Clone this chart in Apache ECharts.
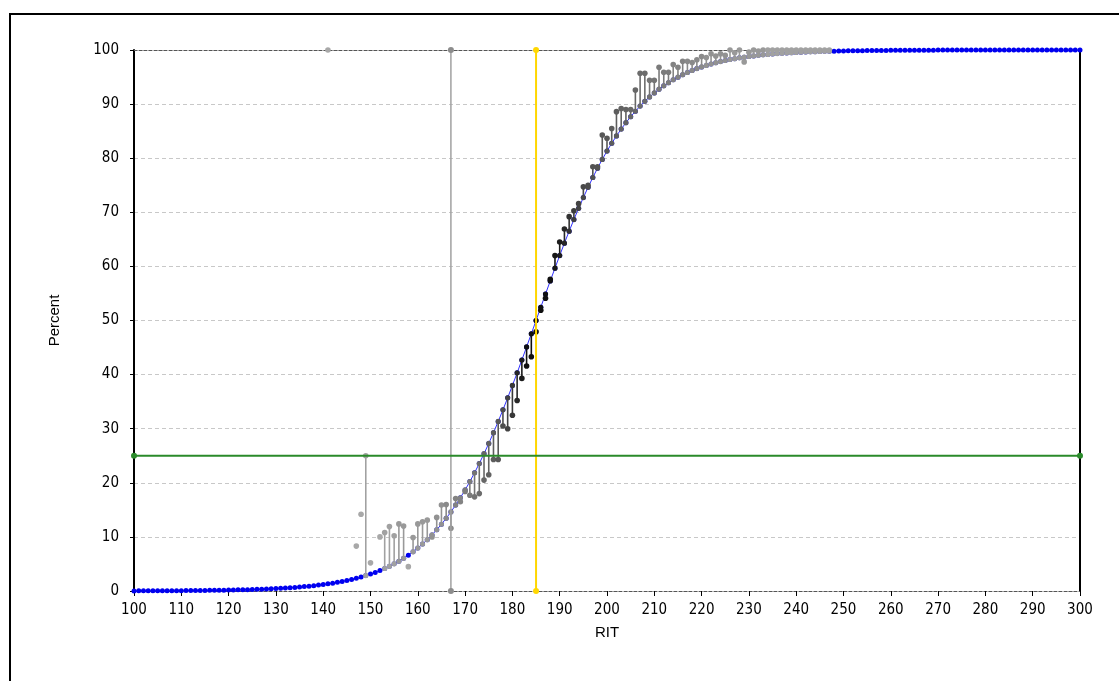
<!DOCTYPE html>
<html><head><meta charset="utf-8">
<script src="https://cdn.jsdelivr.net/npm/echarts@6/dist/echarts.min.js"></script>
<style>html,body{margin:0;padding:0;background:#fff}#c{width:1119px;height:681px}</style>
</head><body><div id="c"></div>
<script>
// Fitted (expected) curve: RIT 100..300, percent
const ritStart = 100;
const curvePct = [
0.02,0.03,0.03,0.03,0.04,0.04,0.04,0.05,0.05,0.06,
0.06,0.07,0.08,0.09,0.09,0.10,0.12,0.13,0.14,0.15,
0.17,0.19,0.21,0.23,0.25,0.28,0.31,0.34,0.37,0.41,
0.45,0.50,0.55,0.61,0.67,0.74,0.81,0.90,0.99,1.09,
1.20,1.32,1.45,1.60,1.76,1.94,2.14,2.35,2.59,2.85,
3.13,3.44,3.79,4.16,4.57,5.02,5.50,6.04,6.62,7.25,
7.94,8.68,9.49,10.37,11.32,12.34,13.44,14.62,15.89,17.24,
18.68,20.22,21.85,23.57,25.38,27.28,29.27,31.34,33.49,35.70,
37.99,40.32,42.70,45.11,47.55,50.00,52.45,54.89,57.30,59.68,
62.01,64.30,66.51,68.66,70.73,72.72,74.62,76.43,78.15,79.78,
81.32,82.76,84.11,85.38,86.56,87.66,88.68,89.63,90.51,91.32,
92.06,92.75,93.38,93.96,94.50,94.98,95.43,95.84,96.21,96.56,
96.87,97.15,97.41,97.65,97.86,98.06,98.24,98.40,98.55,98.68,
98.80,98.91,99.01,99.10,99.19,99.26,99.33,99.39,99.45,99.50,
99.55,99.59,99.63,99.66,99.69,99.72,99.75,99.77,99.79,99.81,
99.83,99.85,99.86,99.87,99.88,99.90,99.91,99.91,99.92,99.93,
99.94,99.94,99.95,99.95,99.96,99.96,99.96,99.97,99.97,99.97,
99.98,99.98,99.98,99.98,99.98,99.98,99.98,99.98,99.98,99.98,
99.99,99.99,99.99,99.99,99.99,99.99,99.99,99.99,99.99,99.99,
99.99,99.99,99.99,99.99,99.99,99.99,99.99,99.99,99.99,99.99,
99.99
];
// Observed points: RIT, observed percent, count (drives shade; single cases have no drop line)
const obsRit = [141,147,148,149,150,152,153,154,155,156,157,158,159,160,161,162,163,164,165,166,167,
168,169,170,171,172,173,174,175,176,177,178,179,180,181,182,183,184,185,186,187,188,189,190,
191,192,193,194,195,196,197,198,199,200,201,202,203,204,205,206,207,208,209,210,
211,212,213,214,215,216,217,218,219,220,221,222,223,224,225,226,227,228,229,230,
231,232,233,234,235,236,237,238,239,240,241,242,243,244,245,246,247];
const obsPct = [100,8.3,14.2,25.0,5.2,10.0,10.8,11.9,10.2,12.4,12.0,4.5,9.9,12.4,12.8,13.1,10.0,13.6,15.9,16.0,11.6,
17.1,16.5,18.4,17.7,17.4,18.0,20.5,21.5,24.3,24.3,30.5,30.0,32.5,35.2,39.3,41.6,43.3,47.9,51.9,54.1,57.6,62.0,64.5,
66.9,69.2,70.3,71.6,74.7,75.0,78.4,78.4,84.3,83.7,85.5,88.6,89.2,89.0,89.0,92.6,95.7,95.7,94.4,94.4,
96.8,95.9,95.9,97.3,96.8,97.9,97.9,97.7,98.2,98.8,98.6,99.3,98.9,99.3,99.0,100,99.5,100,97.8,99.6,
100,99.8,100,100,100,100,100,100,100,100,100,100,100,100,100,100,100];
const obsCount = [1,1,1,2,1,1,2,2,2,3,3,1,3,3,3,3,4,4,4,5,5,
6,6,7,7,8,9,10,11,12,13,15,17,19,22,24,26,27,28,28,27,26,25,24,
22,20,18,17,16,15,14,14,13,13,12,12,11,11,10,10,9,9,8,8,
7,7,7,6,6,6,5,5,5,5,4,4,4,4,4,3,3,3,3,3,
3,3,3,2,2,2,2,2,2,2,2,2,2,2,2,2,2];
// Reference lines
const cutLow = 167;     // grey vertical
const cutMain = 185;    // yellow vertical
const targetPct = 25;   // green horizontal
const xTicks = {min:100, max:300, step:10};
const yTicks = {min:0, max:100, step:10};

const curveData = curvePct.map((v,i)=>[ritStart+i, v]);
const obsData = obsRit.map((r,i)=>[r, obsPct[i], curvePct[r-ritStart], obsCount[i]]);

const font = "'Liberation Sans Narrow','DejaVu Sans Condensed',Arial,sans-serif";
const nameFont = "'Liberation Sans',Arial,sans-serif";
const chart = echarts.init(document.getElementById('c'), null, {renderer:'canvas'});
chart.setOption({
  animation:false,
  backgroundColor:'#fff',
  grid:{left:134, right:39, top:50, bottom:90},
  graphic:[{type:'rect', shape:{x:10, y:14, width:1200, height:800},
    style:{fill:'none', stroke:'#000', lineWidth:2}, z:100}],
  visualMap:{show:false, type:'continuous', seriesIndex:1, dimension:3, min:1, max:26,
    inRange:{color:['#a8a8a8','#6a6a6a','#404040','#101010']}},
  xAxis:[{type:'value', min:xTicks.min, max:xTicks.max, interval:xTicks.step,
    name:'RIT', nameLocation:'middle', nameGap:34,
    nameTextStyle:{fontFamily:nameFont, fontSize:15, color:'#000'},
    axisLine:{show:true, onZero:false, lineStyle:{color:'#555', type:[3,2], width:1}},
    axisTick:{show:true, length:5, lineStyle:{color:'#000'}},
    axisLabel:{fontFamily:font, fontSize:15, color:'#000', margin:12},
    splitLine:{show:false}},
   {type:'value', position:'top', min:xTicks.min, max:xTicks.max,
    axisLine:{show:true, onZero:false, lineStyle:{color:'#555', type:[3,2], width:1}},
    axisTick:{show:false}, axisLabel:{show:false}, splitLine:{show:false}}],
  yAxis:[{type:'value', min:yTicks.min, max:yTicks.max, interval:yTicks.step,
    name:'Percent', nameLocation:'middle', nameGap:72, nameRotate:90,
    nameTextStyle:{fontFamily:nameFont, fontSize:15, color:'#000'},
    axisLine:{show:true, onZero:false, lineStyle:{color:'#000', width:2}},
    axisTick:{show:true, length:4, lineStyle:{color:'#000'}},
    axisLabel:{fontFamily:font, fontSize:15, color:'#000', margin:15},
    splitLine:{show:true, lineStyle:{color:'#c8c8c8', type:[4,3], width:1}}},
   {type:'value', position:'right', min:yTicks.min, max:yTicks.max,
    axisLine:{show:true, onZero:false, lineStyle:{color:'#000', width:2}},
    axisTick:{show:false}, axisLabel:{show:false}, splitLine:{show:false}}],
  series:[
    {type:'line', name:'expected', data:curveData, symbol:'circle', symbolSize:5,
     itemStyle:{color:'#0000f0'}, lineStyle:{color:'#3030ff', width:1}, z:2},
    {type:'custom', name:'observed', data:obsData, z:3,
     encode:{x:0, y:1},
     renderItem:function(params, api){
       const top = api.coord([api.value(0), api.value(1)]);
       const base = api.coord([api.value(0), api.value(2)]);
       const col = api.visual('color');
       const kids = [];
       if (api.value(3) > 1) {
         kids.push({type:'line', shape:{x1:base[0], y1:base[1], x2:top[0], y2:top[1]},
           style:{stroke:col, lineWidth:1.6}});
         kids.push({type:'circle', shape:{cx:base[0], cy:base[1], r:2.6}, style:{fill:col}});
       }
       kids.push({type:'circle', shape:{cx:top[0], cy:top[1], r:2.8}, style:{fill:col}});
       return {type:'group', children:kids};
     }},
    {type:'line', data:[[cutLow,0],[cutLow,100]], symbol:'circle', symbolSize:6,
     itemStyle:{color:'#8c8c8c'}, lineStyle:{color:'#a0a0a0', width:1.5}, z:4},
    {type:'line', data:[[cutMain,0],[cutMain,100]], symbol:'circle', symbolSize:6,
     itemStyle:{color:'#ffd700'}, lineStyle:{color:'#ffd700', width:2}, z:4},
    {type:'line', data:[[xTicks.min,targetPct],[xTicks.max,targetPct]], symbol:'circle', symbolSize:6,
     itemStyle:{color:'#2a8a2a'}, lineStyle:{color:'#2a8a2a', width:2}, z:4}
  ]
});
</script></body></html>
